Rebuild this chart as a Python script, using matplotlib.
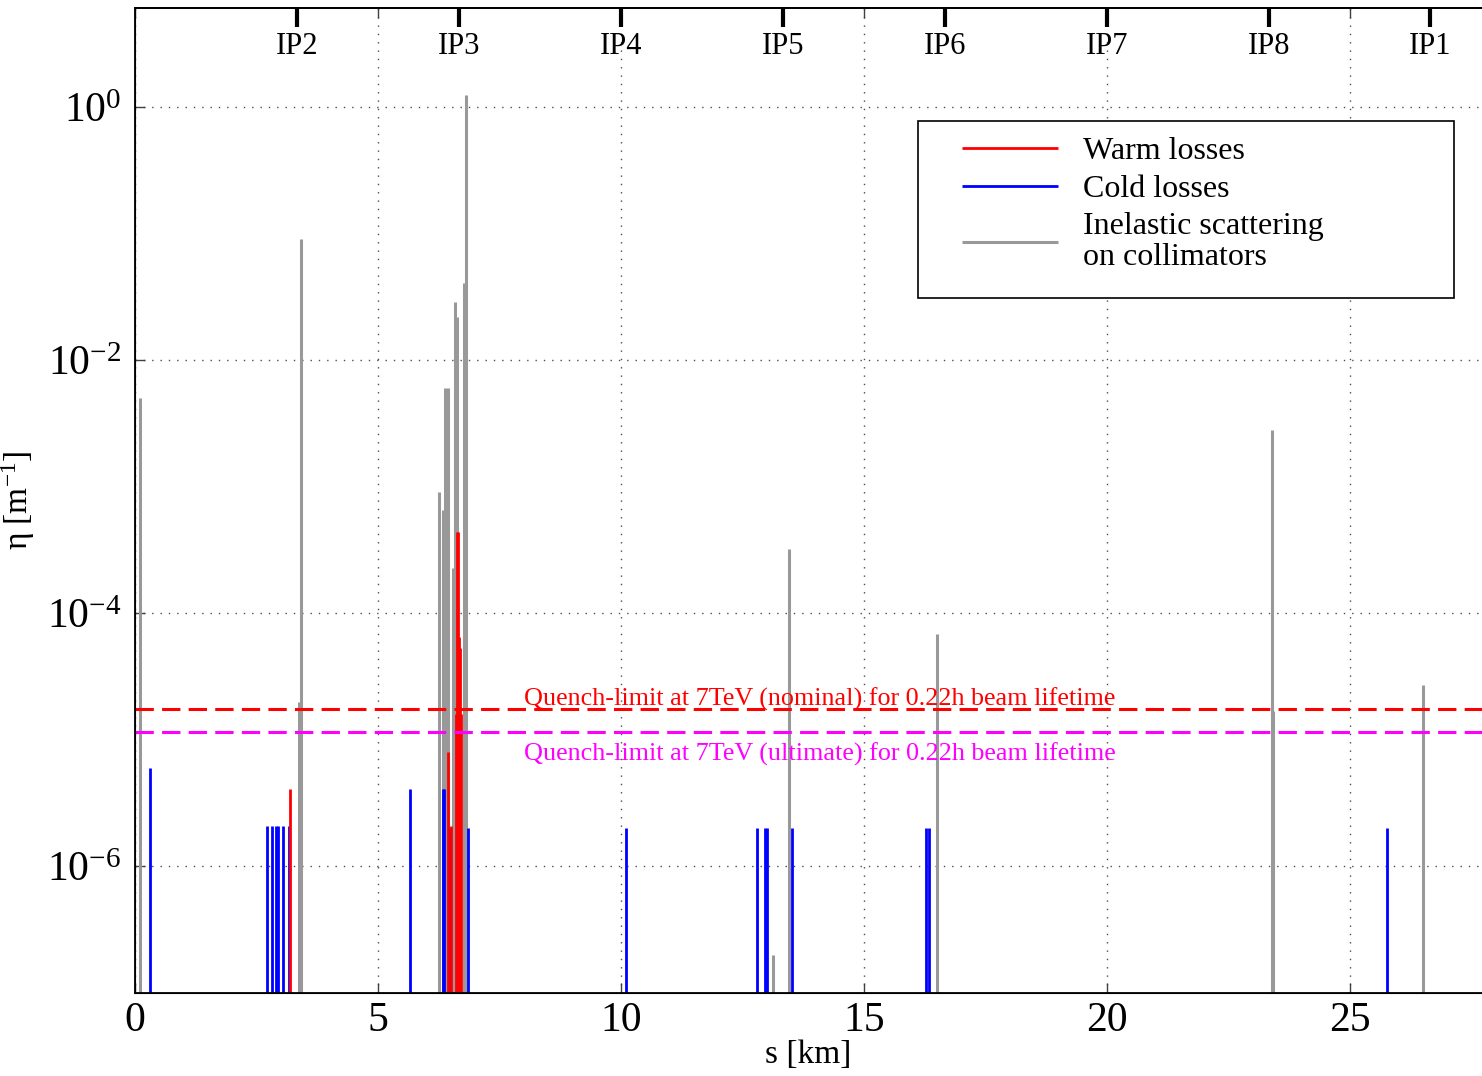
import matplotlib
matplotlib.use("Agg")
import matplotlib.pyplot as plt
from matplotlib.ticker import FixedLocator, NullLocator, LogFormatterSciNotation
from matplotlib.patches import Rectangle

plt.rcParams["font.family"] = ["Liberation Serif", "DejaVu Serif"]
plt.rcParams["mathtext.fontset"] = "custom"
plt.rcParams["mathtext.rm"] = "Liberation Serif"
plt.rcParams["mathtext.it"] = "Liberation Serif:italic"

# ---------------------------
# Data
# ---------------------------
ip_names = ["IP2", "IP3", "IP4", "IP5", "IP6", "IP7", "IP8", "IP1"]
ip_pos = [3.33, 6.66, 10.0, 13.33, 16.67, 20.0, 23.33, 26.66]

# inelastic scattering on collimators
gray_s = [0.10, 3.37, 3.42, 6.26, 6.33, 6.38, 6.45, 6.55, 6.58, 6.62,
          6.78, 6.82, 13.13, 13.46, 16.51, 23.39, 23.42, 26.50]
gray_v = [5.0e-3, 2.0e-5, 9.0e-2, 9.1e-4, 6.6e-4, 6.0e-3, 6.0e-3, 2.3e-4, 2.9e-2, 2.2e-2,
          4.1e-2, 1.25, 2.0e-7, 3.2e-4, 6.9e-5, 2.8e-3, 1.7e-5, 2.7e-5]

# cold losses
blue_s = [0.31, 2.71, 2.81, 2.91, 2.95, 3.05, 3.16, 5.66, 6.33, 6.35,
          6.46, 6.86, 10.10, 12.79, 12.97, 13.00, 13.52, 16.28, 16.33, 25.77]
blue_v = [6.0e-6, 2.1e-6, 2.1e-6, 2.1e-6, 2.1e-6, 2.1e-6, 2.1e-6, 4.1e-6, 4.1e-6, 4.1e-6,
          2.0e-6, 2.0e-6, 2.0e-6, 2.0e-6, 2.0e-6, 2.0e-6, 2.0e-6, 2.0e-6, 2.0e-6, 2.0e-6]

# warm losses
red_s = [3.19, 6.45, 6.50, 6.61, 6.63, 6.65, 6.67, 6.69, 6.71]
red_v = [4.1e-6, 8.0e-6, 2.1e-6, 1.6e-5, 4.4e-4, 4.4e-4, 6.5e-5, 5.3e-5, 1.6e-5]

quench_nominal = 1.74e-5
quench_ultimate = 1.15e-5

x_max = 27.72
y_lim = (1e-7, 6.06)

# ---------------------------
# Figure
# ---------------------------
fig = plt.figure(figsize=(14.82, 10.76), dpi=100)
ax = fig.add_axes([135 / 1482, 1 - 993 / 1076, 1347 / 1482, 985 / 1076])
ax.set_yscale("log")
ax.set_xlim(0, x_max)
ax.set_ylim(*y_lim)

ax.vlines(gray_s, y_lim[0], gray_v, color="0.6", lw=2.2, label="Inelastic scattering\non collimators", zorder=2)
ax.vlines(blue_s, y_lim[0], blue_v, color="#0000ff", lw=2.0, label="Cold losses", zorder=2.1)
ax.vlines(red_s, y_lim[0], red_v, color="#ff0000", lw=2.0, label="Warm losses", zorder=2.2)

ax.axhline(quench_nominal, color="#ff0000", ls=(0, (6, 2.7)), lw=2.2, zorder=3)
ax.axhline(quench_ultimate, color="#ff00ff", ls=(0, (6, 2.7)), lw=2.2, zorder=3)
ax.text(14.09, 2.1e-5, "Quench-limit at 7TeV (nominal) for 0.22h beam lifetime",
        color="#ff0000", fontsize=18.8, ha="center", va="center", zorder=4)
ax.text(14.09, 7.7e-6, "Quench-limit at 7TeV (ultimate) for 0.22h beam lifetime",
        color="#ff00ff", fontsize=18.8, ha="center", va="center", zorder=4)

# axes cosmetics
ax.yaxis.set_major_locator(FixedLocator([1e-6, 1e-4, 1e-2, 1e0]))
ax.yaxis.set_major_formatter(LogFormatterSciNotation())
ax.yaxis.set_minor_locator(NullLocator())
ax.set_xticks([0, 5, 10, 15, 20, 25])
ax.grid(True, which="major", linestyle=(0, (1, 5)), color="0.3", lw=1.0)
ax.spines["right"].set_visible(False)
for sp in ["left", "bottom", "top"]:
    ax.spines[sp].set_linewidth(1.3)

ax.set_xlabel("s [km]", fontsize=24, labelpad=0)
ax.set_ylabel("η [m$^{-1}$]", fontsize=24)
ax.yaxis.set_label_coords((37 - 135) / 1347, 0.5)

# IP markers on top
ax2 = ax.twiny()
ax2.set_xlim(ax.get_xlim())
ax2.set_xticks(ip_pos)
ax2.set_xticklabels(ip_names)
ax2.tick_params(axis="x", direction="in", length=14, width=3, color="black",
                labelsize=22, pad=-38)
ax2.spines["right"].set_visible(False)
ax2.spines["top"].set_linewidth(1.3)

ax.tick_params(axis="both", which="major", direction="in", length=7, width=1,
               color="0.25", labelsize=30, top=True)
ax.tick_params(axis="x", pad=6)
ax.tick_params(axis="y", pad=10)

# legend
ax.add_patch(Rectangle(((918 - 135) / 1347, (993 - 298) / 985), (1454 - 918) / 1347, (298 - 121) / 985,
                       transform=ax.transAxes, facecolor="white", edgecolor="black", lw=1.2, zorder=5))
handles, labels = ax.get_legend_handles_labels()
order = [2, 1, 0]
leg = ax.legend([handles[i] for i in order], [labels[i] for i in order],
                loc="upper left", bbox_to_anchor=((962 - 135) / 1347, (993 - 137) / 985),
                frameon=False, borderpad=0, borderaxespad=0, fontsize=23,
                handlelength=3.0, handletextpad=0.78, labelspacing=0.25)
for t in leg.get_texts():
    t.set_linespacing(1.12)
leg.set_zorder(6)

fig.savefig("out.png", dpi=100)
